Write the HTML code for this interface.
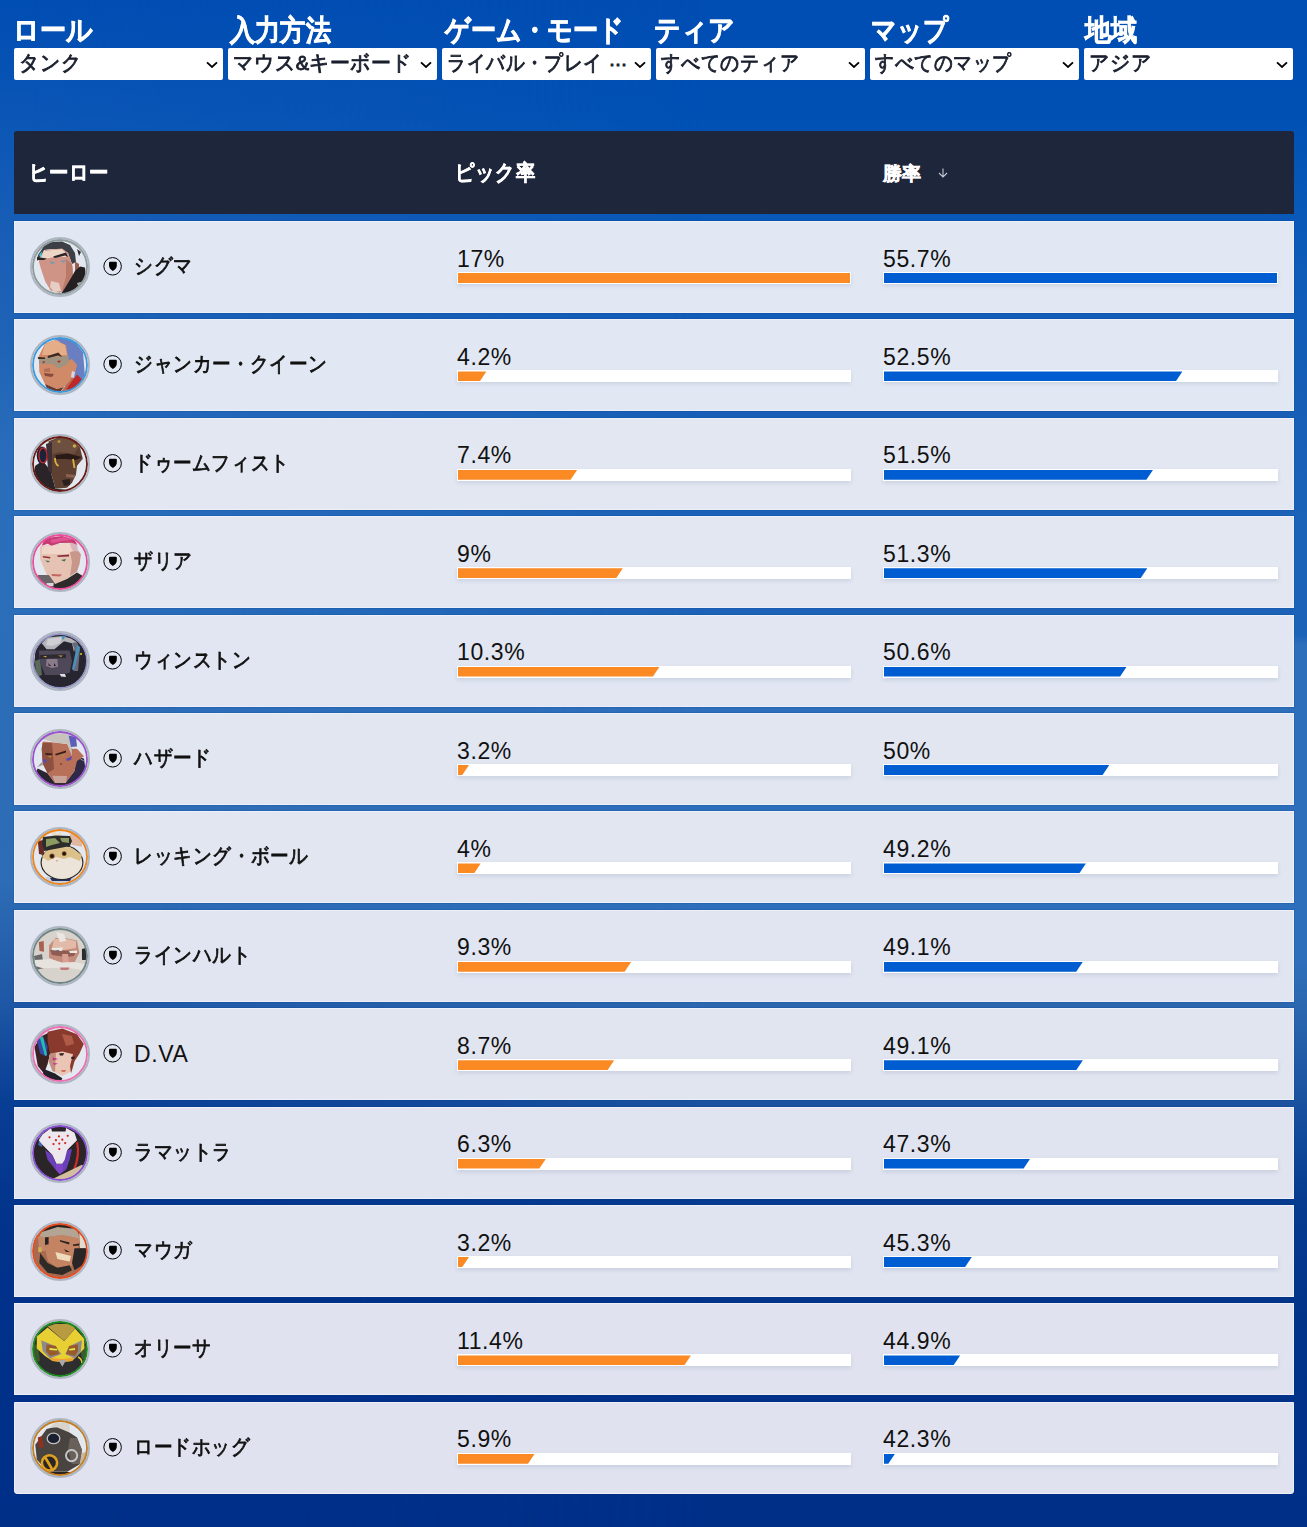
<!DOCTYPE html><html><head><meta charset="utf-8"><style>
*{box-sizing:border-box;margin:0;padding:0}
html,body{width:1307px;height:1527px;overflow:hidden}
body{font-family:"Liberation Sans",sans-serif;position:relative;
background:linear-gradient(180deg,#004db3 0px,#0050b4 110px,#0858b8 200px,#105cb8 300px,#165eb6 400px,#1a62b8 480px,#1c63b8 636px,#2e6fbb 644px,#2e6fbb 960px,#2c68b0 1000px,#1a52a0 1100px,#0e4698 1150px,#063b90 1200px,#02348a 1300px,#002f88 1527px);}
.lov{position:absolute;left:0;top:0;width:1307px;height:1527px;
background:linear-gradient(180deg,#004db3 0px,#0a55b5 110px,#1a5fb6 250px,#1e63b5 340px,#2a6cbb 450px,#2a6ebb 520px,#2e6cb5 880px,#1f58a6 1000px,#093e95 1100px,#03358c 1200px,#01318a 1280px,#002f88 1527px);
-webkit-mask-image:linear-gradient(90deg,#000 0px,#000 30px,transparent 700px)}
.lbl{position:absolute;top:13px;color:#fff;font-weight:bold;font-size:29px;line-height:34px;white-space:nowrap;transform:scaleX(.9);transform-origin:0 0;-webkit-text-stroke:.7px #fff}
.sel{position:absolute;top:48px;height:32px;width:209px;background:#fff;border-radius:2px;white-space:nowrap;overflow:hidden}
.st{position:absolute;left:5px;top:-1px;color:#1a1f2e;font-size:21px;line-height:32px;transform:scaleX(.95);transform-origin:0 0;-webkit-text-stroke:.9px #1a1f2e}
.chev{position:absolute;right:5px;top:12.8px;width:12px;height:7px}
.thead{position:absolute;left:14px;top:131px;width:1280px;height:83px;background:#1e263b;border-radius:3px 3px 0 0}
.th{position:absolute;top:0;line-height:83px;color:#fff;font-weight:bold;font-size:22px;white-space:nowrap;transform:scaleX(.88);transform-origin:0 0;-webkit-text-stroke:.5px #fff}
.row{position:absolute;left:14px;width:1280px;height:92px;background:#e1e7f2;border:1px solid #edf0f7;box-shadow:0 0 0 1px rgba(0,40,120,.12)}
.av{position:absolute;left:15px;top:15px;width:60px;height:60px}
.role{position:absolute;left:88px;top:35px;width:19px;height:19px}
.name{position:absolute;left:119px;top:-2px;line-height:92px;font-size:21px;color:#111;white-space:nowrap;transform:scaleX(.89);transform-origin:0 0;-webkit-text-stroke:.8px #111}
.pct{position:absolute;top:23.6px;font-size:23px;line-height:26px;letter-spacing:.6px;color:#111;white-space:nowrap}
.track{position:absolute;top:50px;width:394px;height:12px;background:#fff;box-shadow:0 2px 4px rgba(40,60,100,.12)}
.fill{position:absolute;left:1px;top:1px;height:10px}
.fo{background:#fb8a24}
.fb{background:#005dd1}
</style></head><body><div class="lov"></div>
<div class="lbl" style="left:13px;transform:scaleX(0.9)">ロール</div>
<div class="sel" style="left:14px"><span class="st" style="transform:scaleX(0.95)">タンク</span><svg class="chev" viewBox="0 0 12 7"><path d="M1 1.3 L6 6 L11 1.3" fill="none" stroke="#000" stroke-width="1.8"/></svg></div>
<div class="lbl" style="left:230px;transform:scaleX(0.87)">入力方法</div>
<div class="sel" style="left:228px"><span class="st" style="transform:scaleX(0.95)">マウス&amp;キーボード</span><svg class="chev" viewBox="0 0 12 7"><path d="M1 1.3 L6 6 L11 1.3" fill="none" stroke="#000" stroke-width="1.8"/></svg></div>
<div class="lbl" style="left:444.5px;transform:scaleX(0.865)">ゲーム・モード</div>
<div class="sel" style="left:442px"><span class="st" style="transform:scaleX(0.89)">ライバル・プレイ</span><span class="st" style="left:167px;transform:none;font-size:18px;top:0">⋯</span><svg class="chev" viewBox="0 0 12 7"><path d="M1 1.3 L6 6 L11 1.3" fill="none" stroke="#000" stroke-width="1.8"/></svg></div>
<div class="lbl" style="left:654px;transform:scaleX(0.9)">ティア</div>
<div class="sel" style="left:656px"><span class="st" style="transform:scaleX(0.9)">すべてのティア</span><svg class="chev" viewBox="0 0 12 7"><path d="M1 1.3 L6 6 L11 1.3" fill="none" stroke="#000" stroke-width="1.8"/></svg></div>
<div class="lbl" style="left:871px;transform:scaleX(0.86)">マップ</div>
<div class="sel" style="left:870px"><span class="st" style="transform:scaleX(0.89)">すべてのマップ</span><svg class="chev" viewBox="0 0 12 7"><path d="M1 1.3 L6 6 L11 1.3" fill="none" stroke="#000" stroke-width="1.8"/></svg></div>
<div class="lbl" style="left:1085px;transform:scaleX(0.9)">地域</div>
<div class="sel" style="left:1084px"><span class="st" style="transform:scaleX(0.95)">アジア</span><svg class="chev" viewBox="0 0 12 7"><path d="M1 1.3 L6 6 L11 1.3" fill="none" stroke="#000" stroke-width="1.8"/></svg></div>
<div class="thead"><div class="th" style="left:15px">ヒーロー</div><div class="th" style="left:441px">ピック率</div><div class="th" style="left:869px;font-size:19px;transform:none;top:1px">勝率</div><svg style="position:absolute;left:924px;top:37px" width="10" height="10" viewBox="0 0 10 10"><path d="M5 0.5 V9 M1 5 L5 9 L9 5" fill="none" stroke="#c4c8d0" stroke-width="1.1"/></svg></div>
<div class="row" style="top:221.0px;background:#e2e8f3">
<svg class="av" viewBox="0 0 60 60"><defs><clipPath id="c0"><circle cx="30" cy="30" r="26.5"/></clipPath></defs><g clip-path="url(#c0)">
<rect width="60" height="60" fill="#e3e8f0"/>
<path d="M7 24 L8 18 L14 9 L21 5 L32 4.6 L40 8 L45 16 L46 25 L42 27 L38 16 L32 12 L21 12 L14 13 L10 21Z" fill="#3c3f46"/>
<path d="M9 21 L15 13 L32 11.5 L38 16 L42 27 L43 32 L43 41 L38 50 L30 56 L20.5 53.5 L15 44 L11 32 L9 25Z" fill="#cf9486"/>
<path d="M14 14 L32 12 L37 17 L36 20 L24 20 L15 22 L10 22Z" fill="#eed6c6"/>
<path d="M36 22 L42 27 L43 41 L38 50 L32 54 L36 40Z" fill="#b97a6a"/>
<path d="M7 20 L17 21.5 L14 23 L7 23Z" fill="#2a2426"/>
<path d="M23 19.5 L36 15.5 L38 20 L35 18.5 L25 21Z" fill="#2a2426"/>
<path d="M20 24 L26 26 L21 27Z M30 24 L36 23 L34 26Z" fill="#7a98b0"/>
<path d="M45 24.6 L49 27 L49 34 L45 35Z" fill="#9a5e50"/>
<path d="M30 58 L35 51 L41 41 L45 34 L50 29.5 L55 30.5 L56 41 L52 51 L42 56Z" fill="#231f22"/>
<path d="M47 46 L54 44 L56 50 L50 54Z" fill="#a8a8ac"/>
<path d="M21 44 L29 46 L31 54 L24 55 L20 50Z" fill="#e6cec4"/>
<path d="M9 18 L12 14 L11 21Z" fill="#40c8e0"/>
<path d="M47 12 L51 15 L49 19Z" fill="#2a2a2e"/>
</g><circle cx="30" cy="30" r="27" fill="none" stroke="#8d9a9a" stroke-width="1.8"/><circle cx="30" cy="30" r="29" fill="none" stroke="#adb6c0" stroke-width="2"/></svg>
<svg class="role" viewBox="0 0 19 19"><circle cx="9.6" cy="9.3" r="8.75" fill="none" stroke="#000" stroke-width="1.0"/><path d="M7 4.7 H12.8 Q13.8 4.7 13.8 5.7 V8.8 Q13.8 11.5 9.9 13.9 Q6 11.5 6 8.8 V5.7 Q6 4.7 7 4.7Z" fill="#000"/></svg>
<div class="name">シグマ</div>
<div class="pct" style="left:442px">17%</div>
<div class="track" style="left:442px"><div class="fill fo" style="width:392.0px;"></div></div>
<div class="pct" style="left:868px">55.7%</div>
<div class="track" style="left:868px;width:395px"><div class="fill fb" style="width:393.0px;"></div></div>
</div>
<div class="row" style="top:319.4px;background:#e2e8f3">
<svg class="av" viewBox="0 0 60 60"><defs><clipPath id="c1"><circle cx="30" cy="30" r="26.5"/></clipPath></defs><g clip-path="url(#c1)">
<rect width="60" height="60" fill="#e3e8f0"/>
<path d="M22 3 L42 4 L53 17 L55 42 L46 54 L36 58 L34 40 L34 18 L30 7Z" fill="#6a7fc2"/>
<path d="M30 58 L36 50 L42 42 L46 44 L44 52 L38 58Z" fill="#b86a50"/>
<path d="M8.8 21.3 L15 8.6 L25.4 5.1 L36 10 L38.6 25.2 L42 24 L47 30 L45 38 L40 45.8 L34 52 L27.4 54.1 L15 49.2 L9.3 37Z" fill="#d08a68"/>
<path d="M15 9 L25 5.5 L35 10 L37 20 L20 20 L12 20Z" fill="#e6ae88"/>
<path d="M8.8 23.3 L38.6 20.8 L38.6 28.2 L28.4 34 L22.5 29.1 L9.3 29.1Z" fill="#a09480"/>
<path d="M7.8 22 L15 22.5 L15 24 L8 24Z M17.6 21 L28.4 17.5 L32.3 22 L28 20.5 L18 23Z" fill="#3a2a22"/>
<path d="M12 27 L15 26 L14 28.5Z M27 26 L31 25.5 L29 28Z" fill="#b02020"/>
<path d="M14 34 L20 33 L20 37 L14 37Z" fill="#b0705a"/>
<path d="M14 38 L24 39 L22 42 L15 41Z" fill="#8a4a3e"/>
<path d="M15 49 L27 54 L34 52 L30 57 L18 56Z" fill="#6a3a2e"/>
<path d="M36.2 54.1 L47 39.4 L51.9 44.3 L44.5 56Z" fill="#c02828"/>
<path d="M42 36 L45 37 L44 43 L41 42Z" fill="#d8d8dc"/>
</g><circle cx="30" cy="30" r="27" fill="none" stroke="#3a9ae0" stroke-width="1.8"/><circle cx="30" cy="30" r="29" fill="none" stroke="#adb6c0" stroke-width="2"/></svg>
<svg class="role" viewBox="0 0 19 19"><circle cx="9.6" cy="9.3" r="8.75" fill="none" stroke="#000" stroke-width="1.0"/><path d="M7 4.7 H12.8 Q13.8 4.7 13.8 5.7 V8.8 Q13.8 11.5 9.9 13.9 Q6 11.5 6 8.8 V5.7 Q6 4.7 7 4.7Z" fill="#000"/></svg>
<div class="name">ジャンカー・クイーン</div>
<div class="pct" style="left:442px">4.2%</div>
<div class="track" style="left:442px"><div class="fill fo" style="width:28.4px;clip-path:polygon(0 0,100% 0,calc(100% - 6.7px) 100%,0 100%)"></div></div>
<div class="pct" style="left:868px">52.5%</div>
<div class="track" style="left:868px;width:395px"><div class="fill fb" style="width:298.4px;clip-path:polygon(0 0,100% 0,calc(100% - 6.7px) 100%,0 100%)"></div></div>
</div>
<div class="row" style="top:417.8px;background:#e2e7f2">
<svg class="av" viewBox="0 0 60 60"><defs><clipPath id="c2"><circle cx="30" cy="30" r="26.5"/></clipPath></defs><g clip-path="url(#c2)">
<rect width="60" height="60" fill="#e3e8f0"/>
<path d="M5.3 31.7 L12.7 26.8 L20.5 36.6 L25.4 54.7 L42 56.2 L36 61 L10 60 L2 46Z" fill="#2a2428"/>
<path d="M18.6 7.2 L29.3 3.3 L42 4.7 L50 13.6 L52.8 24.8 L47 31.7 L46 40.5 L42 48.8 L37 53.7 L25.4 54.7 L20.5 36.6 L18.6 17Z" fill="#5e4032"/>
<path d="M20 8 L30 4 L42 5 L49 13 L44 20 L30 18 L22 20Z" fill="#6e5040"/>
<path d="M25.4 21 L38 19.5 L52 23 L46 26 L36 25 L26 25Z" fill="#2a1a16"/>
<path d="M32 46 L40 45 L40 51 L34 52Z" fill="#2a2020"/>
<path d="M36 40 L46 41 L44 44 L36 43Z" fill="#8a6050"/>
<path d="M16 10 L22 8 L22 40 L18 36Z" fill="#3e3034"/>
<ellipse cx="12.2" cy="21.4" rx="5.5" ry="9" fill="#1c2238"/>
<ellipse cx="13" cy="21.4" rx="4" ry="7.5" fill="none" stroke="#d42828" stroke-width="1.2"/>
<path d="M25 24 Q25 30 28.5 32" fill="none" stroke="#d8b040" stroke-width="1.8"/>
<path d="M43 25 L44.5 34" fill="none" stroke="#d8b040" stroke-width="1.8"/>
<circle cx="29" cy="7.5" r="1.6" fill="#b09038"/><circle cx="44.5" cy="12" r="1.8" fill="#d0a840"/>
</g><circle cx="30" cy="30" r="27" fill="none" stroke="#6a1a12" stroke-width="1.8"/><circle cx="30" cy="30" r="29" fill="none" stroke="#adb6c0" stroke-width="2"/></svg>
<svg class="role" viewBox="0 0 19 19"><circle cx="9.6" cy="9.3" r="8.75" fill="none" stroke="#000" stroke-width="1.0"/><path d="M7 4.7 H12.8 Q13.8 4.7 13.8 5.7 V8.8 Q13.8 11.5 9.9 13.9 Q6 11.5 6 8.8 V5.7 Q6 4.7 7 4.7Z" fill="#000"/></svg>
<div class="name">ドゥームフィスト</div>
<div class="pct" style="left:442px">7.4%</div>
<div class="track" style="left:442px"><div class="fill fo" style="width:119.3px;clip-path:polygon(0 0,100% 0,calc(100% - 6.7px) 100%,0 100%)"></div></div>
<div class="pct" style="left:868px">51.5%</div>
<div class="track" style="left:868px;width:395px"><div class="fill fb" style="width:269.1px;clip-path:polygon(0 0,100% 0,calc(100% - 6.7px) 100%,0 100%)"></div></div>
</div>
<div class="row" style="top:516.2px;background:#e2e7f2">
<svg class="av" viewBox="0 0 60 60"><defs><clipPath id="c3"><circle cx="30" cy="30" r="26.5"/></clipPath></defs><g clip-path="url(#c3)">
<rect width="60" height="60" fill="#e3e8f0"/>
<path d="M10.2 14.2 L21.5 12.7 L42 10.7 L48 18.6 L50.9 22.5 L49.4 32.3 L47 39.6 L37.2 47 L25 51.9 L17.6 44.5 L10.2 27.4Z" fill="#e6c2b2"/>
<path d="M12 15 L21.5 13 L40 11 L44 18 L38 22 L22 22 L12 22Z" fill="#f0d6c8"/>
<path d="M40 20 L48 18.6 L50.9 22.5 L49.4 32.3 L47 39.6 L40 44 L42 30Z" fill="#c8968a"/>
<path d="M39.6 10 L47 11 L48 20 L42 18Z" fill="#d8b4bc"/>
<path d="M11.7 13.7 L15 6.3 L32.3 3.9 L44.5 7.8 L47 12.7 L42 10.7 L30 11 L21.5 13.7 L17.6 11.7Z" fill="#c83c72"/>
<path d="M20 8 L34 5 L42 8 L32 9 L22 11Z" fill="#e05494"/>
<path d="M12.7 24 L20.5 25 L20 26.5 L13 25.5Z M27 23.5 L39 22.5 L39 24.5 L28 25Z" fill="#8a3040"/>
<path d="M15 28.5 L20 29 L18 30.5Z M31 28 L36 27 L34.5 29.5Z" fill="#3a7050"/>
<path d="M21.5 42 L32 42.5 L30 44.5 L22 44Z" fill="#c06860"/>
<path d="M7.8 43 L19 43.5 L25 52 L37 47 L47 40.6 L52 43.5 L52 60 L8 60Z" fill="#2e2a2c"/>
<path d="M7.8 43 L19 43.5 L25 52 L14 56 L6 50Z" fill="#6a6468"/>
<path d="M16.6 51 L23.5 51 L23.5 54.3 L17 55Z" fill="#d8d8d8"/>
</g><circle cx="30" cy="30" r="27" fill="none" stroke="#ee4c9c" stroke-width="1.8"/><circle cx="30" cy="30" r="29" fill="none" stroke="#adb6c0" stroke-width="2"/></svg>
<svg class="role" viewBox="0 0 19 19"><circle cx="9.6" cy="9.3" r="8.75" fill="none" stroke="#000" stroke-width="1.0"/><path d="M7 4.7 H12.8 Q13.8 4.7 13.8 5.7 V8.8 Q13.8 11.5 9.9 13.9 Q6 11.5 6 8.8 V5.7 Q6 4.7 7 4.7Z" fill="#000"/></svg>
<div class="name">ザリア</div>
<div class="pct" style="left:442px">9%</div>
<div class="track" style="left:442px"><div class="fill fo" style="width:164.8px;clip-path:polygon(0 0,100% 0,calc(100% - 6.7px) 100%,0 100%)"></div></div>
<div class="pct" style="left:868px">51.3%</div>
<div class="track" style="left:868px;width:395px"><div class="fill fb" style="width:263.3px;clip-path:polygon(0 0,100% 0,calc(100% - 6.7px) 100%,0 100%)"></div></div>
</div>
<div class="row" style="top:614.6px;background:#e1e6f2">
<svg class="av" viewBox="0 0 60 60"><defs><clipPath id="c4"><circle cx="30" cy="30" r="26.5"/></clipPath></defs><g clip-path="url(#c4)">
<rect width="60" height="60" fill="#262530"/>
<path d="M0 0 L60 0 L60 8 L44 4 L20 4 L6 14 L4 34 L0 40Z" fill="#e3e8f0"/>
<path d="M5 30 L10 28 L12 44 L6 46Z" fill="#5a6a5a"/>
<path d="M8.8 19.6 L39.6 19.6 L42 30 L39.6 41.7 L30 44 L15 44 L10.2 31.9Z" fill="#4e4858"/>
<path d="M16.6 28 L27.4 28 L28 35.8 L22 37 L16 35Z" fill="#8a7a8a"/>
<path d="M18 32 L21 35 L19 35Z M24 32 L26 35 L24 35Z" fill="#20181e"/>
<path d="M10 24 L36 23 L36 27 L10 28Z" fill="#2e2a32"/>
<path d="M13 25 L17 25 L15.5 26.5Z M28 24.5 L33 24.5 L31 26Z" fill="#c8a040"/>
<path d="M11.7 12.3 L17.6 6.4 L32.3 5 L41 7.4 L47 11.3 L44 21 L42 12.3 L34 10.3 L24.4 18.2 L16.6 18.2Z" fill="#b4b4ba"/>
<path d="M18 8 L32 6 L30 12 L22 15 L16 14Z" fill="#d0d0d4"/>
<path d="M42 12 L47 11 L50 18 L48 40 L44 40 L46 22Z" fill="#6a6a78"/>
<path d="M47 14 L50 16 L44 40 L42 38Z" fill="#4a90b8"/>
<path d="M31 5 L36 5 L33 9Z" fill="#4a90b8"/>
<path d="M29.8 43.1 L35 43 L36 46 L31 45.6Z" fill="#e0e0e4"/>
<circle cx="51" cy="23" r="1" fill="#e0d020"/>
</g><circle cx="30" cy="30" r="27" fill="none" stroke="#9494c0" stroke-width="1.8"/><circle cx="30" cy="30" r="29" fill="none" stroke="#adb6c0" stroke-width="2"/></svg>
<svg class="role" viewBox="0 0 19 19"><circle cx="9.6" cy="9.3" r="8.75" fill="none" stroke="#000" stroke-width="1.0"/><path d="M7 4.7 H12.8 Q13.8 4.7 13.8 5.7 V8.8 Q13.8 11.5 9.9 13.9 Q6 11.5 6 8.8 V5.7 Q6 4.7 7 4.7Z" fill="#000"/></svg>
<div class="name">ウィンストン</div>
<div class="pct" style="left:442px">10.3%</div>
<div class="track" style="left:442px"><div class="fill fo" style="width:201.7px;clip-path:polygon(0 0,100% 0,calc(100% - 6.7px) 100%,0 100%)"></div></div>
<div class="pct" style="left:868px">50.6%</div>
<div class="track" style="left:868px;width:395px"><div class="fill fb" style="width:242.8px;clip-path:polygon(0 0,100% 0,calc(100% - 6.7px) 100%,0 100%)"></div></div>
</div>
<div class="row" style="top:713.0px;background:#e1e6f1">
<svg class="av" viewBox="0 0 60 60"><defs><clipPath id="c5"><circle cx="30" cy="30" r="26.5"/></clipPath></defs><g clip-path="url(#c5)">
<rect width="60" height="60" fill="#e3e8f0"/>
<path d="M44.5 27 L54 29.6 L56 44 L48 58 L36 58 L37 51.7 L44.5 42Z" fill="#2e2a48"/>
<path d="M7.8 39.4 L17.6 44.3 L25 54 L24 60 L6 60 L4 46Z" fill="#2a2430"/>
<path d="M12.7 12.5 L24.4 13.5 L37 15 L42 19.8 L47 19.8 L54 27.2 L47 32 L44.5 41.9 L37 51.7 L25 54.1 L17.6 44.3 L12.7 34.5 L11.7 19.8Z" fill="#b87058"/>
<path d="M12.7 14 L22 14 L24 40 L17.6 44.3 L12.7 34.5 L11.7 19.8Z" fill="#8e5040"/>
<path d="M18 54 L42 52 L42 60 L18 60Z" fill="#3a2a34"/>
<path d="M22.5 46.8 L37 47 L36 54 L25 54.1Z" fill="#c8a49a"/>
<path d="M12.7 10 L20 5.1 L34.7 4.2 L41 7.6 L42 27.2 L37 15 L24.4 13.5 L17.6 11.5Z" fill="#c8c2bc"/>
<path d="M38.6 6.6 L46 8 L47 17.4 L41 18Z" fill="#5a60b8"/>
<path d="M15 24 L22.5 24.5 L22 26 L16 26Z M25 25 L36 21.5 L36 23.5 L26 26.5Z" fill="#3a2018"/>
<path d="M18 27 L22 27 L20 29Z M31 26 L35 25.5 L33.5 28Z" fill="#b08838"/>
<path d="M36 30 L42 27 L41 31 L37 32Z M13 30 L17 31 L16 34 L13 33Z" fill="#5a4ab0"/>
<path d="M30 34 L32 35 L31 36Z" fill="#2a1810"/>
<path d="M7 38 L12 33 L13 36Z M50 29 L56 33 L51 31Z" fill="#9a9aa0"/>
</g><circle cx="30" cy="30" r="27" fill="none" stroke="#9a4ed0" stroke-width="1.8"/><circle cx="30" cy="30" r="29" fill="none" stroke="#adb6c0" stroke-width="2"/></svg>
<svg class="role" viewBox="0 0 19 19"><circle cx="9.6" cy="9.3" r="8.75" fill="none" stroke="#000" stroke-width="1.0"/><path d="M7 4.7 H12.8 Q13.8 4.7 13.8 5.7 V8.8 Q13.8 11.5 9.9 13.9 Q6 11.5 6 8.8 V5.7 Q6 4.7 7 4.7Z" fill="#000"/></svg>
<div class="name">ハザード</div>
<div class="pct" style="left:442px">3.2%</div>
<div class="track" style="left:442px"><div class="fill fo" style="width:11.0px;clip-path:polygon(0 0,100% 0,calc(100% - 6.7px) 100%,0 100%)"></div></div>
<div class="pct" style="left:868px">50%</div>
<div class="track" style="left:868px;width:395px"><div class="fill fb" style="width:225.3px;clip-path:polygon(0 0,100% 0,calc(100% - 6.7px) 100%,0 100%)"></div></div>
</div>
<div class="row" style="top:811.4px;background:#e1e6f1">
<svg class="av" viewBox="0 0 60 60"><defs><clipPath id="c6"><circle cx="30" cy="30" r="26.5"/></clipPath></defs><g clip-path="url(#c6)">
<rect width="60" height="60" fill="#e3e8f0"/>
<path d="M16 50 L44 48 L46 58 L14 58Z" fill="#c8d0e0"/>
<path d="M20 51 L42 50 L40 54 L22 54Z" fill="#203060"/>
<path d="M39.6 6.6 L48 8 L52 16 L52 19.8 L42 18Z" fill="#e0b8a0"/>
<path d="M7.8 14 L13.7 13 L14 28.2 L9 27Z" fill="#6a2a28"/>
<ellipse cx="32" cy="35.5" rx="21.5" ry="17.5" fill="#2a2826"/>
<ellipse cx="32" cy="35.5" rx="20.3" ry="16.4" fill="#ece4d8"/>
<path d="M12 30 L16 24 L28 20 L40 20 L52 28 L50 34 L40 30 L34 32 L26 30 L18 34Z" fill="#dcc08a"/>
<path d="M21.5 5 L25 3 L27 8 L30 4 L32 9 L22 10Z" fill="#e8dcc8"/>
<path d="M13 10 L26 8.5 L40 9 L42 14 L40 19 L30 21 L14 24 L12 16Z" fill="#2c2c2a"/>
<path d="M16 12 L25 11 L30 16 L22 18 L16 20Z" fill="#8a9a60"/>
<path d="M30 11 L39 11 L39 16 L32 15Z" fill="#8a9a60"/>
<circle cx="22" cy="29.1" r="2.6" fill="#7a4a20"/><circle cx="22" cy="29.1" r="1.7" fill="#1a1410"/>
<circle cx="34.2" cy="26.7" r="2.4" fill="#7a4a20"/><circle cx="34.2" cy="26.7" r="1.6" fill="#1a1410"/>
<path d="M25.5 33 L28.5 33 L27 35Z" fill="#e8a0a0"/>
</g><circle cx="30" cy="30" r="27" fill="none" stroke="#f08214" stroke-width="1.8"/><circle cx="30" cy="30" r="29" fill="none" stroke="#adb6c0" stroke-width="2"/></svg>
<svg class="role" viewBox="0 0 19 19"><circle cx="9.6" cy="9.3" r="8.75" fill="none" stroke="#000" stroke-width="1.0"/><path d="M7 4.7 H12.8 Q13.8 4.7 13.8 5.7 V8.8 Q13.8 11.5 9.9 13.9 Q6 11.5 6 8.8 V5.7 Q6 4.7 7 4.7Z" fill="#000"/></svg>
<div class="name">レッキング・ボール</div>
<div class="pct" style="left:442px">4%</div>
<div class="track" style="left:442px"><div class="fill fo" style="width:22.7px;clip-path:polygon(0 0,100% 0,calc(100% - 6.7px) 100%,0 100%)"></div></div>
<div class="pct" style="left:868px">49.2%</div>
<div class="track" style="left:868px;width:395px"><div class="fill fb" style="width:201.9px;clip-path:polygon(0 0,100% 0,calc(100% - 6.7px) 100%,0 100%)"></div></div>
</div>
<div class="row" style="top:909.8px;background:#e1e5f1">
<svg class="av" viewBox="0 0 60 60"><defs><clipPath id="c7"><circle cx="30" cy="30" r="26.5"/></clipPath></defs><g clip-path="url(#c7)">
<rect width="60" height="60" fill="#d8d2cc"/>
<path d="M19 19.4 L25.4 12.1 L35 12.1 L47 14.5 L49.4 26.8 L44.5 36.6 L38 39 L29.8 36.6 L19 31.7Z" fill="#c48c7c"/>
<path d="M24 13 L35 12.5 L46 15 L46 22 L34 24 L22 22Z" fill="#e2baa8"/>
<path d="M20 24 L46 25 L44 30 L36 31 L22 29Z" fill="#8e5c52"/>
<path d="M21.5 22 L33 21.5 L32 25 L22 24Z M39 25 L47 24.5 L47 27 L40 27Z" fill="#ece8e4"/>
<path d="M26 24 L29 24 L28 26Z" fill="#4a6a98"/>
<path d="M32 28 L38 28 L39 37 L33 38Z" fill="#d8a090"/>
<path d="M8.8 16 L13.7 15 L14 25.8 L9.5 25Z" fill="#a86050"/>
<path d="M4 30 L12 28 L14 42 L6 44Z" fill="#6a6868"/>
<path d="M4.9 34 L20 33 L32 36.5 L44 36 L54.3 38 L52 44 L40 42 L28 42 L12 42 L5 40Z" fill="#e6e2de"/>
<path d="M29.8 41.5 L39.6 41.5 L38 44 L31 44Z" fill="#c07878"/>
<path d="M51.9 22.9 L56 22 L56 34.1 L52 34Z" fill="#2a2a30"/>
<path d="M26 6 L34 8 L36 15 L30 16Z" fill="#eae6e2"/>
</g><circle cx="30" cy="30" r="27" fill="none" stroke="#6e8484" stroke-width="1.8"/><circle cx="30" cy="30" r="29" fill="none" stroke="#adb6c0" stroke-width="2"/></svg>
<svg class="role" viewBox="0 0 19 19"><circle cx="9.6" cy="9.3" r="8.75" fill="none" stroke="#000" stroke-width="1.0"/><path d="M7 4.7 H12.8 Q13.8 4.7 13.8 5.7 V8.8 Q13.8 11.5 9.9 13.9 Q6 11.5 6 8.8 V5.7 Q6 4.7 7 4.7Z" fill="#000"/></svg>
<div class="name">ラインハルト</div>
<div class="pct" style="left:442px">9.3%</div>
<div class="track" style="left:442px"><div class="fill fo" style="width:173.3px;clip-path:polygon(0 0,100% 0,calc(100% - 6.7px) 100%,0 100%)"></div></div>
<div class="pct" style="left:868px">49.1%</div>
<div class="track" style="left:868px;width:395px"><div class="fill fb" style="width:198.9px;clip-path:polygon(0 0,100% 0,calc(100% - 6.7px) 100%,0 100%)"></div></div>
</div>
<div class="row" style="top:1008.2px;background:#e1e5f0">
<svg class="av" viewBox="0 0 60 60"><defs><clipPath id="c8"><circle cx="30" cy="30" r="26.5"/></clipPath></defs><g clip-path="url(#c8)">
<rect width="60" height="60" fill="#e3e8f0"/>
<path d="M4.4 22.5 L12 12 L20 8 L20 30 L17.6 40 L14 49.4 L7.8 42Z" fill="#3a2222"/>
<path d="M12.7 44.5 L25 49.4 L32.3 54.3 L30 60 L14 58Z" fill="#222028"/>
<path d="M20 29.8 L32.3 27.4 L41 29.8 L47 29.8 L44.5 37.2 L42 47 L32.3 51.9 L22.5 47 L18.6 37.2Z" fill="#eac4b4"/>
<path d="M20 29.8 L26 29 L25 48 L22.5 47 L18.6 37.2Z" fill="#c48e7e"/>
<path d="M17.6 7.8 L32.3 4.4 L47 10.2 L53.8 20 L49.4 29.8 L44.5 37.2 L41 49.4 L40 42 L43 30 L41 29.8 L32.3 27.4 L20 29.8 L17.6 17.6Z" fill="#8a3a2c"/>
<path d="M32 10 L42 12 L44 20 L36 22Z" fill="#b05a48"/>
<path d="M6.8 16.6 L12.7 11.7 L17.6 22.5 L16.6 32.3 L10.2 29.8Z" fill="#3848a8"/>
<path d="M10 14 L13 12.5 L17 31 L15 32Z" fill="#20c0b0"/>
<path d="M29 29.5 L34 29 L33 31.5 L30 31.5Z M41 33 L45 32.5 L44 35 L41.5 35Z" fill="#2a2020"/>
<path d="M22.5 33.5 L28 35 L23 36.5Z M23 39 L28 39.5 L24 41Z" fill="#c03090"/>
<path d="M31 46 L36 46 L35 48 L32 48Z" fill="#d07060"/>
</g><circle cx="30" cy="30" r="27" fill="none" stroke="#f16ab2" stroke-width="1.8"/><circle cx="30" cy="30" r="29" fill="none" stroke="#adb6c0" stroke-width="2"/></svg>
<svg class="role" viewBox="0 0 19 19"><circle cx="9.6" cy="9.3" r="8.75" fill="none" stroke="#000" stroke-width="1.0"/><path d="M7 4.7 H12.8 Q13.8 4.7 13.8 5.7 V8.8 Q13.8 11.5 9.9 13.9 Q6 11.5 6 8.8 V5.7 Q6 4.7 7 4.7Z" fill="#000"/></svg>
<div class="name" style="transform:none;-webkit-text-stroke:0;font-size:23px;letter-spacing:.6px;left:119px;top:-1px">D.VA</div>
<div class="pct" style="left:442px">8.7%</div>
<div class="track" style="left:442px"><div class="fill fo" style="width:156.2px;clip-path:polygon(0 0,100% 0,calc(100% - 6.7px) 100%,0 100%)"></div></div>
<div class="pct" style="left:868px">49.1%</div>
<div class="track" style="left:868px;width:395px"><div class="fill fb" style="width:198.9px;clip-path:polygon(0 0,100% 0,calc(100% - 6.7px) 100%,0 100%)"></div></div>
</div>
<div class="row" style="top:1106.6px;background:#e0e4f0">
<svg class="av" viewBox="0 0 60 60"><defs><clipPath id="c9"><circle cx="30" cy="30" r="26.5"/></clipPath></defs><g clip-path="url(#c9)">
<rect width="60" height="60" fill="#2a2628"/>
<path d="M0 0 L18 0 L10 14 L0 22Z M40 0 L60 0 L60 20 L46 8Z" fill="#e3e8f0"/>
<path d="M10 14 L14 10 L12 24 L8 22Z" fill="#4a66a8"/>
<path d="M15 27 L22.5 31.9 L26.4 41.7 L32.3 41.7 L37.2 27 L42 26 L39.6 36.8 L36.2 46.6 L29.8 51.5 L25.4 46.6 L17.6 36.8Z" fill="#6a40b8"/>
<path d="M26 41 L33 41 L33 48 L30 51 L26 47Z" fill="#8044c8"/>
<path d="M12.7 11.3 L21 5 L36.2 5 L44.5 9.8 L47 17.2 L37.2 27 L34.7 36.8 L32.3 40.7 L26.4 40.7 L22.5 31.9 L12.7 22.1 L8.8 17.2Z" fill="#ece8ee"/>
<path d="M21 5 L36.2 5 L35.5 8.4 L22 8.4Z" fill="#2a2428"/>
<path d="M47 19 Q50 32 44 47" fill="none" stroke="#d02a2a" stroke-width="2.2"/>
<path d="M22.5 56 L52 41.7 L60 50 L60 60 L20 60Z" fill="#d4bea0"/>
<g fill="#d02020"><circle cx="19.5" cy="14.3" r="1.1"/><circle cx="28.9" cy="13.3" r="1.1"/><circle cx="37.7" cy="12.8" r="1.1"/><circle cx="25.9" cy="17.2" r="1.1"/><circle cx="32.3" cy="16.7" r="1.1"/><circle cx="23.5" cy="21.1" r="1.1"/><circle cx="29.3" cy="20.6" r="1.1"/><circle cx="35.2" cy="20.1" r="1.1"/><circle cx="29.3" cy="26" r="1.1"/></g>
</g><circle cx="30" cy="30" r="27" fill="none" stroke="#8a4ed6" stroke-width="1.8"/><circle cx="30" cy="30" r="29" fill="none" stroke="#adb6c0" stroke-width="2"/></svg>
<svg class="role" viewBox="0 0 19 19"><circle cx="9.6" cy="9.3" r="8.75" fill="none" stroke="#000" stroke-width="1.0"/><path d="M7 4.7 H12.8 Q13.8 4.7 13.8 5.7 V8.8 Q13.8 11.5 9.9 13.9 Q6 11.5 6 8.8 V5.7 Q6 4.7 7 4.7Z" fill="#000"/></svg>
<div class="name">ラマットラ</div>
<div class="pct" style="left:442px">6.3%</div>
<div class="track" style="left:442px"><div class="fill fo" style="width:88.1px;clip-path:polygon(0 0,100% 0,calc(100% - 6.7px) 100%,0 100%)"></div></div>
<div class="pct" style="left:868px">47.3%</div>
<div class="track" style="left:868px;width:395px"><div class="fill fb" style="width:146.3px;clip-path:polygon(0 0,100% 0,calc(100% - 6.7px) 100%,0 100%)"></div></div>
</div>
<div class="row" style="top:1205.0px;background:#e0e4f0">
<svg class="av" viewBox="0 0 60 60"><defs><clipPath id="c10"><circle cx="30" cy="30" r="26.5"/></clipPath></defs><g clip-path="url(#c10)">
<rect width="60" height="60" fill="#a86a50"/>
<path d="M16 16 L32 14 L49.4 17.4 L48 30 L44 42 L38 48 L26 46 L18 40 L15 28Z" fill="#c48464"/>
<path d="M10 4 L30 2 L50 6 L52 12 L10 14Z" fill="#2a2420"/>
<path d="M10.2 11.5 L27.4 6.1 L47 8 L49.4 17.4 L32.3 14 L16.6 16 L10 16Z" fill="#b4a494"/>
<path d="M49.4 12.5 L56 14 L56 27.2 L50 27Z" fill="#e0dcd0"/>
<path d="M44.5 27.2 L56 27.2 L56 41.9 L44.5 49.2 L42 41.9Z" fill="#2a2628"/>
<path d="M15 16.4 L18.6 16 L18.6 23.3 L15 24Z" fill="#2a2420"/>
<path d="M8 15 L15 16 L15 30 L9 30Z" fill="#c08868"/>
<path d="M8.3 26.2 L11.7 26.2 L11.7 31.1 L8.3 31.1Z" fill="#d0b050"/>
<path d="M10.2 32.1 L17.6 41.9 L27.4 46.8 L39.6 44.3 L42 49.2 L32.3 54.1 L17.6 51.7 L9.3 41.9Z" fill="#2e2a26"/>
<path d="M25.4 31.1 L41 35 L39.6 40.4 L27.4 38Z" fill="#eedcbc"/>
<path d="M29.8 18.9 L39.6 21.5 L39 23.5 L30 20.5Z M43 23.5 L49.4 22.5 L49 24.5 L43 25Z" fill="#2a2420"/>
<path d="M34 28 L40 31 L36 31Z" fill="#3a2218"/>
</g><circle cx="30" cy="30" r="27" fill="none" stroke="#e84a1c" stroke-width="1.8"/><circle cx="30" cy="30" r="29" fill="none" stroke="#adb6c0" stroke-width="2"/></svg>
<svg class="role" viewBox="0 0 19 19"><circle cx="9.6" cy="9.3" r="8.75" fill="none" stroke="#000" stroke-width="1.0"/><path d="M7 4.7 H12.8 Q13.8 4.7 13.8 5.7 V8.8 Q13.8 11.5 9.9 13.9 Q6 11.5 6 8.8 V5.7 Q6 4.7 7 4.7Z" fill="#000"/></svg>
<div class="name">マウガ</div>
<div class="pct" style="left:442px">3.2%</div>
<div class="track" style="left:442px"><div class="fill fo" style="width:11.0px;clip-path:polygon(0 0,100% 0,calc(100% - 6.7px) 100%,0 100%)"></div></div>
<div class="pct" style="left:868px">45.3%</div>
<div class="track" style="left:868px;width:395px"><div class="fill fb" style="width:87.8px;clip-path:polygon(0 0,100% 0,calc(100% - 6.7px) 100%,0 100%)"></div></div>
</div>
<div class="row" style="top:1303.4px;background:#e0e3ef">
<svg class="av" viewBox="0 0 60 60"><defs><clipPath id="c11"><circle cx="30" cy="30" r="26.5"/></clipPath></defs><g clip-path="url(#c11)">
<rect width="60" height="60" fill="#2e2e30"/>
<path d="M0 24 L8 26 L10 42 L0 44Z M50 28 L60 26 L60 42 L52 40Z" fill="#3e5a2c"/>
<path d="M25 5.1 L42 5.1 L40 10 L28 10Z" fill="#3a3a3c"/>
<path d="M6.8 17.4 L17.6 8.6 L34.2 22.3 L45 9.6 L54.3 19.8 L54.3 29.6 L47 37 L42 42 L32.3 42.9 L22.5 41.9 L15 37 L6.8 29.6Z" fill="#e8d034"/>
<path d="M15 34 L22 39 L32 40 L42 39 L48 34 L42 42 L32.3 42.9 L22.5 41.9Z" fill="#f0a030"/>
<path d="M17.6 7.6 L25 5.1 L42 5.1 L45 9.6 L34.2 22.3Z" fill="#b89a40"/>
<path d="M11.2 21.3 L25.4 27.2 L31.3 35 L20 39.4 L12.7 32.1Z M51.9 21.3 L39.6 27.2 L35.2 35 L45 39.4 L50.9 32.1Z" fill="#8a8a8c"/>
<path d="M16.6 25.2 L26 27 L29.3 35 L20 37 L16 32Z M48 25.2 L39 27 L36 35 L45 37 L48 32Z" fill="#9a5a2a"/>
<path d="M19.5 29.1 L27.4 30 L27 31.6 L19.5 31Z M39 30 L45 29.1 L45 31 L39.5 31.6Z" fill="#d8f050"/>
<path d="M28.4 40.9 L36.2 40.9 L32.3 47.8Z" fill="#a8a8a8"/>
<path d="M48 38 Q52 40 52 44.3" fill="none" stroke="#e8c838" stroke-width="1.4"/>
</g><circle cx="30" cy="30" r="27" fill="none" stroke="#1a8c1a" stroke-width="1.8"/><circle cx="30" cy="30" r="29" fill="none" stroke="#adb6c0" stroke-width="2"/></svg>
<svg class="role" viewBox="0 0 19 19"><circle cx="9.6" cy="9.3" r="8.75" fill="none" stroke="#000" stroke-width="1.0"/><path d="M7 4.7 H12.8 Q13.8 4.7 13.8 5.7 V8.8 Q13.8 11.5 9.9 13.9 Q6 11.5 6 8.8 V5.7 Q6 4.7 7 4.7Z" fill="#000"/></svg>
<div class="name">オリーサ</div>
<div class="pct" style="left:442px">11.4%</div>
<div class="track" style="left:442px"><div class="fill fo" style="width:232.9px;clip-path:polygon(0 0,100% 0,calc(100% - 6.7px) 100%,0 100%)"></div></div>
<div class="pct" style="left:868px">44.9%</div>
<div class="track" style="left:868px;width:395px"><div class="fill fb" style="width:76.1px;clip-path:polygon(0 0,100% 0,calc(100% - 6.7px) 100%,0 100%)"></div></div>
</div>
<div class="row" style="top:1401.8px;background:#e0e3ef;border-radius:0 0 3px 3px">
<svg class="av" viewBox="0 0 60 60"><defs><clipPath id="c12"><circle cx="30" cy="30" r="26.5"/></clipPath></defs><g clip-path="url(#c12)">
<rect width="60" height="60" fill="#e3e8f0"/>
<path d="M46 36 L56 34 L58 46 L48 46Z" fill="#c8b8a0"/>
<path d="M5.3 26.8 L16.6 11.1 L27.4 8.2 L38 13.6 L47 19.4 L51.9 31.7 L49.4 46.4 L37.2 53.7 L17.6 53.7 L6.8 41.5Z" fill="#4a4440"/>
<path d="M40 20 L47 20 L51.9 31.7 L49.4 46 L42 46 L38 32Z" fill="#6a605a"/>
<path d="M20 9.6 L25 4.7 L39.6 5.2 L39.6 14.5 L27.4 9.6Z" fill="#d8d4cc"/>
<path d="M7.8 19.4 L12 18 L13.7 29.2 L9 30Z" fill="#903020"/>
<ellipse cx="23.5" cy="20.4" rx="6.3" ry="5.3" fill="#1a2030" stroke="#c0c0c4" stroke-width="1.3"/>
<circle cx="41.6" cy="37.6" r="5.6" fill="none" stroke="#c4c4c8" stroke-width="2"/>
<circle cx="19.5" cy="44.9" r="7.6" fill="#2a2624" stroke="#e0a020" stroke-width="2.6"/>
<path d="M15 39 L22 51" stroke="#e0a020" stroke-width="2.6"/>
<path d="M14 54 L40 54 L40 60 L14 60Z" fill="#2a2220"/>
</g><circle cx="30" cy="30" r="27" fill="none" stroke="#c47c1c" stroke-width="1.8"/><circle cx="30" cy="30" r="29" fill="none" stroke="#adb6c0" stroke-width="2"/></svg>
<svg class="role" viewBox="0 0 19 19"><circle cx="9.6" cy="9.3" r="8.75" fill="none" stroke="#000" stroke-width="1.0"/><path d="M7 4.7 H12.8 Q13.8 4.7 13.8 5.7 V8.8 Q13.8 11.5 9.9 13.9 Q6 11.5 6 8.8 V5.7 Q6 4.7 7 4.7Z" fill="#000"/></svg>
<div class="name">ロードホッグ</div>
<div class="pct" style="left:442px">5.9%</div>
<div class="track" style="left:442px"><div class="fill fo" style="width:76.7px;clip-path:polygon(0 0,100% 0,calc(100% - 6.7px) 100%,0 100%)"></div></div>
<div class="pct" style="left:868px">42.3%</div>
<div class="track" style="left:868px;width:395px"><div class="fill fb" style="width:11.0px;clip-path:polygon(0 0,100% 0,calc(100% - 6.7px) 100%,0 100%)"></div></div>
</div>
</body></html>
